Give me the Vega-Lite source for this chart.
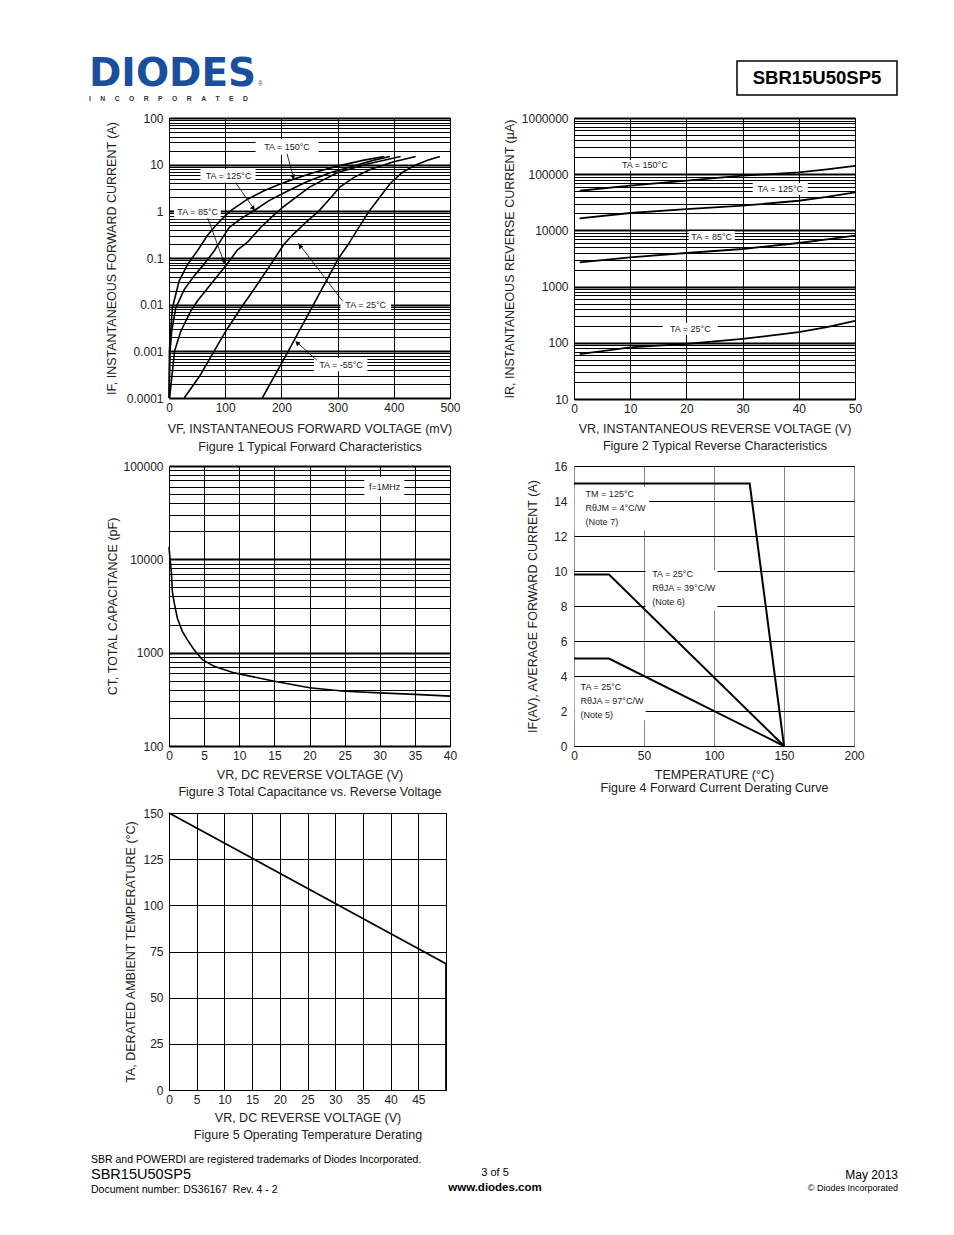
{
  "$schema": "https://vega.github.io/schema/vega-lite/v6.json",
  "background": "white",
  "padding": {"left": 88, "top": 0, "right": 10, "bottom": 10},
  "columns": 2,
  "spacing": {"row": 67, "column": 124},
  "bounds": "flush",
  "align": "each",
  "config": {
    "font": "Liberation Sans",
    "view": {"stroke": "black", "strokeWidth": 1},
    "axis": {"ticks": false, "domain": false, "grid": true, "gridColor": "black", "gridOpacity": 1, "gridWidth": 1, "labelFontSize": 12, "labelColor": "#222", "labelPadding": 4, "labelOverlap": false, "labelBound": false, "labelFlush": false, "titleFontSize": 12.5, "titleFontWeight": "normal", "titleColor": "#222", "titleLineHeight": 17.5, "titlePadding": 5},
    "axisY": {"labelPadding": 6},
    "text": {"color": "#222"}
  },
  "concat": [
    {
      "width": 281, "height": 51, "view": {"stroke": null},
      "encoding": {
        "x": {"field": "x", "type": "quantitative", "scale": {"domain": [0, 281], "nice": false, "zero": false}, "axis": null},
        "y": {"field": "y", "type": "quantitative", "scale": {"domain": [0, 51], "nice": false, "zero": false, "reverse": true}, "axis": null},
        "text": {"field": "t"}
      },
      "layer": [
        {"data": {"values": [{"x": -80, "y": 86, "t": "DIODES"}]}, "mark": {"type": "text", "align": "left", "baseline": "alphabetic", "font": "DejaVu Sans", "fontSize": 39, "fontWeight": "bold", "color": "#1a4f9e"}},
        {"data": {"values": [{"x": -80, "y": 99, "t": "I\u00a0\u00a0\u00a0\u00a0\u00a0N\u00a0\u00a0\u00a0\u00a0\u00a0C\u00a0\u00a0\u00a0\u00a0\u00a0O\u00a0\u00a0\u00a0\u00a0\u00a0R\u00a0\u00a0\u00a0\u00a0\u00a0P\u00a0\u00a0\u00a0\u00a0\u00a0O\u00a0\u00a0\u00a0\u00a0\u00a0R\u00a0\u00a0\u00a0\u00a0\u00a0A\u00a0\u00a0\u00a0\u00a0\u00a0T\u00a0\u00a0\u00a0\u00a0\u00a0E\u00a0\u00a0\u00a0\u00a0\u00a0D"}]}, "mark": {"type": "text", "align": "left", "baseline": "middle", "fontSize": 6.8, "fontWeight": "bold", "color": "#333"}},
        {"data": {"values": [{"x": 89, "y": 84, "t": "®"}]}, "mark": {"type": "text", "align": "left", "baseline": "middle", "fontSize": 6.5, "color": "#1a4f9e"}}
      ]
    },
    {
      "width": 281, "height": 51, "view": {"stroke": null},
      "encoding": {
        "x": {"field": "x", "type": "quantitative", "scale": {"domain": [0, 281], "nice": false, "zero": false}, "axis": null},
        "y": {"field": "y", "type": "quantitative", "scale": {"domain": [0, 51], "nice": false, "zero": false, "reverse": true}, "axis": null}
      },
      "layer": [
        {"data": {"values": [{"x": 163, "x2": 323, "y": 61, "y2": 95}]}, "mark": {"type": "rect", "fill": "transparent", "stroke": "black", "strokeWidth": 1.5}, "encoding": {"x2": {"field": "x2"}, "y2": {"field": "y2"}}},
        {"data": {"values": [{"x": 243, "y": 78, "t": "SBR15U50SP5"}]}, "mark": {"type": "text", "align": "center", "baseline": "middle", "fontSize": 18.5, "fontWeight": "bold", "color": "black"}, "encoding": {"text": {"field": "t"}}}
      ]
    },
    {
      "width": 281, "height": 280,
      "encoding": {
        "x": {"field": "x", "type": "quantitative", "scale": {"domain": [0, 500], "nice": false, "zero": false},
              "axis": {"values": [0, 100, 200, 300, 400, 500], "title": ["VF, INSTANTANEOUS FORWARD VOLTAGE (mV)", "Figure 1 Typical Forward Characteristics"], "titlePadding": 9, "titleLineHeight": 18}},
        "y": {"field": "y", "type": "quantitative", "scale": {"type": "log", "domain": [0.0001, 100], "nice": false},
              "axis": {"values": [0.0001,0.0002,0.0003,0.0004,0.0005,0.0006,0.0007,0.0008,0.0009,0.001,0.002,0.003,0.004,0.005,0.006,0.007,0.008,0.009,0.01,0.02,0.03,0.04,0.05,0.06,0.07,0.08,0.09,0.1,0.2,0.3,0.4,0.5,0.6,0.7,0.8,0.9,1,2,3,4,5,6,7,8,9,10,20,30,40,50,60,70,80,90,100],
                       "format": "~f",
                       "labelExpr": "abs(log(datum.value)/LN10 - round(log(datum.value)/LN10)) < 0.000001 ? datum.label : ''",
                       "gridWidth": {"condition": {"test": "abs(log(datum.value)/LN10 - round(log(datum.value)/LN10)) < 0.000001", "value": 2}, "value": 1},
                       "title": "IF, INSTANTANEOUS FORWARD CURRENT (A)", "titlePadding": 8}}
      },
      "layer": [
        {"data": {"values": [
          {"x": 154, "x2": 266, "y": 16.3, "y2": 36},
          {"x": 56, "x2": 154, "y": 4.14, "y2": 8.03},
          {"x": 9, "x2": 92, "y": 0.678, "y2": 1.31},
          {"x": 305, "x2": 395, "y": 0.0073, "y2": 0.013},
          {"x": 258, "x2": 353, "y": 0.000375, "y2": 0.00072}
        ]}, "mark": {"type": "rect", "fill": "white"}, "encoding": {"x2": {"field": "x2"}, "y2": {"field": "y2"}}},
        {"data": {"values": [
          {"s": "150", "x": 0.1, "y": 0.0001}, {"s": "150", "x": 0.7, "y": 0.001}, {"s": "150", "x": 3, "y": 0.0027}, {"s": "150", "x": 6, "y": 0.0085}, {"s": "150", "x": 18, "y": 0.032}, {"s": "150", "x": 33, "y": 0.073}, {"s": "150", "x": 50, "y": 0.14}, {"s": "150", "x": 68, "y": 0.3}, {"s": "150", "x": 80, "y": 0.45}, {"s": "150", "x": 95, "y": 0.7}, {"s": "150", "x": 108, "y": 1.0}, {"s": "150", "x": 139, "y": 1.8}, {"s": "150", "x": 170, "y": 2.8}, {"s": "150", "x": 199, "y": 3.9}, {"s": "150", "x": 222, "y": 4.9}, {"s": "150", "x": 258, "y": 6.8}, {"s": "150", "x": 300, "y": 9.3}, {"s": "150", "x": 347, "y": 12.5}, {"s": "150", "x": 383, "y": 15},
          {"s": "125", "x": 0.2, "y": 0.0001}, {"s": "125", "x": 1.9, "y": 0.001}, {"s": "125", "x": 4.8, "y": 0.0027}, {"s": "125", "x": 12, "y": 0.0085}, {"s": "125", "x": 27, "y": 0.021}, {"s": "125", "x": 44.5, "y": 0.041}, {"s": "125", "x": 62, "y": 0.073}, {"s": "125", "x": 80, "y": 0.14}, {"s": "125", "x": 95, "y": 0.27}, {"s": "125", "x": 107, "y": 0.45}, {"s": "125", "x": 128, "y": 0.7}, {"s": "125", "x": 153, "y": 1.07}, {"s": "125", "x": 178, "y": 1.7}, {"s": "125", "x": 205, "y": 2.5}, {"s": "125", "x": 245, "y": 4.3}, {"s": "125", "x": 288, "y": 6.8}, {"s": "125", "x": 330, "y": 9.5}, {"s": "125", "x": 365, "y": 12.5}, {"s": "125", "x": 393, "y": 15},
          {"s": "85", "x": 1.1, "y": 0.0001}, {"s": "85", "x": 9.8, "y": 0.001}, {"s": "85", "x": 21, "y": 0.0027}, {"s": "85", "x": 38.6, "y": 0.0073}, {"s": "85", "x": 50.5, "y": 0.012}, {"s": "85", "x": 74, "y": 0.027}, {"s": "85", "x": 101, "y": 0.068}, {"s": "85", "x": 122, "y": 0.15}, {"s": "85", "x": 140, "y": 0.22}, {"s": "85", "x": 163, "y": 0.45}, {"s": "85", "x": 185, "y": 0.8}, {"s": "85", "x": 205, "y": 1.3}, {"s": "85", "x": 250, "y": 3.3}, {"s": "85", "x": 300, "y": 6.8}, {"s": "85", "x": 355, "y": 10.5}, {"s": "85", "x": 412, "y": 15},
          {"s": "25", "x": 27, "y": 0.0001}, {"s": "25", "x": 55, "y": 0.0003}, {"s": "25", "x": 80, "y": 0.001}, {"s": "25", "x": 101, "y": 0.0027}, {"s": "25", "x": 128, "y": 0.0085}, {"s": "25", "x": 157, "y": 0.027}, {"s": "25", "x": 181, "y": 0.073}, {"s": "25", "x": 205, "y": 0.2}, {"s": "25", "x": 222, "y": 0.33}, {"s": "25", "x": 246, "y": 0.62}, {"s": "25", "x": 266, "y": 1.0}, {"s": "25", "x": 285, "y": 1.8}, {"s": "25", "x": 305, "y": 3.4}, {"s": "25", "x": 330, "y": 5.4}, {"s": "25", "x": 359, "y": 8}, {"s": "25", "x": 400, "y": 11.5}, {"s": "25", "x": 439, "y": 15},
          {"s": "-55", "x": 166, "y": 0.0001}, {"s": "-55", "x": 212, "y": 0.001}, {"s": "-55", "x": 257, "y": 0.01}, {"s": "-55", "x": 302, "y": 0.1}, {"s": "-55", "x": 317, "y": 0.18}, {"s": "-55", "x": 335, "y": 0.4}, {"s": "-55", "x": 356, "y": 1.0}, {"s": "-55", "x": 375, "y": 2.0}, {"s": "-55", "x": 394, "y": 4.0}, {"s": "-55", "x": 415, "y": 6.8}, {"s": "-55", "x": 436, "y": 9.5}, {"s": "-55", "x": 460, "y": 12.5}, {"s": "-55", "x": 482, "y": 15}
        ]}, "mark": {"type": "line", "color": "black", "strokeWidth": 1.6}, "encoding": {"detail": {"field": "s"}, "order": {"value": null}}},
        {"data": {"values": [
          {"x": 210, "y": 17.1, "x2": 222.4, "y2": 4.9},
          {"x": 118.7, "y": 4.08, "x2": 152.5, "y2": 1.07},
          {"x": 68.9, "y": 0.72, "x2": 99, "y2": 0.0743},
          {"x": 309, "y": 0.0119, "x2": 230, "y2": 0.21},
          {"x": 263, "y": 0.000646, "x2": 225.4, "y2": 0.00165}
        ]}, "mark": {"type": "rule", "color": "black", "strokeWidth": 0.8}, "encoding": {"x2": {"field": "x2"}, "y2": {"field": "y2"}}},
        {"data": {"values": [{"x": 221, "y": 5.4}]}, "mark": {"type": "point", "shape": "triangle-up", "filled": true, "color": "black", "size": 28, "angle": 166, "opacity": 1}},
        {"data": {"values": [{"x": 150, "y": 1.15}]}, "mark": {"type": "point", "shape": "triangle-up", "filled": true, "color": "black", "size": 28, "angle": 145, "opacity": 1}},
        {"data": {"values": [{"x": 97.5, "y": 0.085}]}, "mark": {"type": "point", "shape": "triangle-up", "filled": true, "color": "black", "size": 28, "angle": 160, "opacity": 1}},
        {"data": {"values": [{"x": 233, "y": 0.18}]}, "mark": {"type": "point", "shape": "triangle-up", "filled": true, "color": "black", "size": 28, "angle": 322, "opacity": 1}},
        {"data": {"values": [{"x": 228, "y": 0.00152}]}, "mark": {"type": "point", "shape": "triangle-up", "filled": true, "color": "black", "size": 28, "angle": 312, "opacity": 1}},
        {"data": {"values": [
          {"x": 210, "y": 24.2, "t": "TA = 150°C"},
          {"x": 106, "y": 5.6, "t": "TA = 125°C"},
          {"x": 51, "y": 0.95, "t": "TA = 85°C"},
          {"x": 350, "y": 0.0098, "t": "TA = 25°C"},
          {"x": 306, "y": 0.00051, "t": "TA = -55°C"}
        ]}, "mark": {"type": "text", "fontSize": 9, "align": "center", "baseline": "middle"}, "encoding": {"text": {"field": "t"}}}
      ]
    },
    {
      "width": 281, "height": 281,
      "encoding": {
        "x": {"field": "x", "type": "quantitative", "scale": {"domain": [0, 50], "nice": false, "zero": false},
              "axis": {"values": [0, 10, 20, 30, 40, 50], "title": ["VR, INSTANTANEOUS REVERSE VOLTAGE (V)", "Figure 2  Typical Reverse Characteristics"], "titlePadding": 8}},
        "y": {"field": "y", "type": "quantitative", "scale": {"type": "log", "domain": [10, 1000000], "nice": false},
              "axis": {"values": [10,20,30,40,50,60,70,80,90,100,200,300,400,500,600,700,800,900,1000,2000,3000,4000,5000,6000,7000,8000,9000,10000,20000,30000,40000,50000,60000,70000,80000,90000,100000,200000,300000,400000,500000,600000,700000,800000,900000,1000000],
                       "format": "~f",
                       "labelExpr": "abs(log(datum.value)/LN10 - round(log(datum.value)/LN10)) < 0.000001 ? datum.label : ''",
                       "gridWidth": {"condition": {"test": "abs(log(datum.value)/LN10 - round(log(datum.value)/LN10)) < 0.000001", "value": 2}, "value": 1},
                       "title": "IR, INSTANTANEOUS REVERSE CURRENT (µA)", "titlePadding": 5}}
      },
      "layer": [
        {"data": {"values": [
          {"x": 8.2, "x2": 17.1, "y": 114000, "y2": 179000},
          {"x": 31.8, "x2": 41.6, "y": 42700, "y2": 69700},
          {"x": 20.4, "x2": 28.6, "y": 5970, "y2": 9750},
          {"x": 15.8, "x2": 25.6, "y": 138, "y2": 225}
        ]}, "mark": {"type": "rect", "fill": "white"}, "encoding": {"x2": {"field": "x2"}, "y2": {"field": "y2"}}},
        {"data": {"values": [
          {"s": "150", "x": 1, "y": 50800}, {"s": "150", "x": 10, "y": 62400}, {"s": "150", "x": 20, "y": 76600}, {"s": "150", "x": 30, "y": 94000}, {"s": "150", "x": 40, "y": 108000}, {"s": "150", "x": 45, "y": 122000}, {"s": "150", "x": 50, "y": 141000},
          {"s": "125", "x": 1, "y": 16400}, {"s": "125", "x": 10, "y": 20400}, {"s": "125", "x": 20, "y": 24000}, {"s": "125", "x": 30, "y": 27500}, {"s": "125", "x": 40, "y": 33700}, {"s": "125", "x": 45, "y": 39500}, {"s": "125", "x": 50, "y": 47600},
          {"s": "85", "x": 1, "y": 2700}, {"s": "85", "x": 10, "y": 3320}, {"s": "85", "x": 20, "y": 3960}, {"s": "85", "x": 30, "y": 4670}, {"s": "85", "x": 40, "y": 5970}, {"s": "85", "x": 45, "y": 6900}, {"s": "85", "x": 50, "y": 8050},
          {"s": "25", "x": 1, "y": 63}, {"s": "25", "x": 10, "y": 83}, {"s": "25", "x": 20, "y": 96}, {"s": "25", "x": 30, "y": 117}, {"s": "25", "x": 40, "y": 155}, {"s": "25", "x": 45, "y": 190}, {"s": "25", "x": 50, "y": 245}
        ]}, "mark": {"type": "line", "color": "black", "strokeWidth": 1.8}, "encoding": {"detail": {"field": "s"}, "order": {"value": null}}},
        {"data": {"values": [
          {"x": 12.6, "y": 146000, "t": "TA = 150°C"},
          {"x": 36.7, "y": 54600, "t": "TA = 125°C"},
          {"x": 24.5, "y": 7640, "t": "TA = 85°C"},
          {"x": 20.7, "y": 176, "t": "TA = 25°C"}
        ]}, "mark": {"type": "text", "fontSize": 9, "align": "center", "baseline": "middle"}, "encoding": {"text": {"field": "t"}}}
      ]
    },
    {
      "width": 281, "height": 280,
      "encoding": {
        "x": {"field": "x", "type": "quantitative", "scale": {"domain": [0, 40], "nice": false, "zero": false},
              "axis": {"values": [0, 5, 10, 15, 20, 25, 30, 35, 40], "title": ["VR, DC REVERSE VOLTAGE (V)", "Figure 3  Total Capacitance vs. Reverse Voltage"], "titlePadding": 7}},
        "y": {"field": "y", "type": "quantitative", "scale": {"type": "log", "domain": [100, 100000], "nice": false},
              "axis": {"values": [100,200,300,400,500,600,700,800,900,1000,2000,3000,4000,5000,6000,7000,8000,9000,10000,20000,30000,40000,50000,60000,70000,80000,90000,100000],
                       "format": "~f",
                       "labelExpr": "abs(log(datum.value)/LN10 - round(log(datum.value)/LN10)) < 0.000001 ? datum.label : ''",
                       "gridWidth": {"condition": {"test": "abs(log(datum.value)/LN10 - round(log(datum.value)/LN10)) < 0.000001", "value": 2}, "value": 1},
                       "title": "CT, TOTAL CAPACITANCE (pF)", "titlePadding": 3}}
      },
      "layer": [
        {"data": {"values": [{"x": 27.8, "x2": 33.5, "y": 47000, "y2": 76900}]}, "mark": {"type": "rect", "fill": "white"}, "encoding": {"x2": {"field": "x2"}, "y2": {"field": "y2"}}},
        {"data": {"values": [
          {"x": 0, "y": 13650}, {"x": 0.14, "y": 10200}, {"x": 0.33, "y": 7380}, {"x": 0.48, "y": 4520}, {"x": 0.71, "y": 3530}, {"x": 1.19, "y": 2340}, {"x": 1.9, "y": 1690}, {"x": 2.6, "y": 1380}, {"x": 3.57, "y": 1077}, {"x": 4.76, "y": 841}, {"x": 6.43, "y": 714}, {"x": 9.3, "y": 607}, {"x": 15, "y": 494}, {"x": 20, "y": 420}, {"x": 25, "y": 386}, {"x": 30, "y": 371}, {"x": 35, "y": 357}, {"x": 40, "y": 342}
        ]}, "mark": {"type": "line", "color": "black", "strokeWidth": 1.6}, "encoding": {"order": {"value": null}}},
        {"data": {"values": [{"x": 30.7, "y": 60100, "t": "f=1MHz"}]}, "mark": {"type": "text", "fontSize": 9, "align": "center", "baseline": "middle"}, "encoding": {"text": {"field": "t"}}}
      ]
    },
    {
      "width": 280, "height": 280,
      "encoding": {
        "x": {"field": "x", "type": "quantitative", "scale": {"domain": [0, 200], "nice": false, "zero": false},
              "axis": {"values": [0, 50, 100, 150, 200], "gridColor": "#888", "title": ["TEMPERATURE (°C)", "Figure 4  Forward Current Derating Curve"], "titleLineHeight": 13.5, "titlePadding": 7}},
        "y": {"field": "y", "type": "quantitative", "scale": {"domain": [0, 16], "nice": false, "zero": false},
              "axis": {"values": [0, 2, 4, 6, 8, 10, 12, 14, 16], "title": "IF(AV), AVERAGE FORWARD CURRENT (A)", "titlePadding": 14, "labelPadding": 7}}
      },
      "layer": [
        {"data": {"values": [
          {"x": 0.5, "x2": 53.6, "y": 12.3, "y2": 14.8},
          {"x": 51.1, "x2": 102.4, "y": 7.75, "y2": 10.04},
          {"x": 0.5, "x2": 51.2, "y": 1.47, "y2": 3.94}
        ]}, "mark": {"type": "rect", "fill": "white"}, "encoding": {"x2": {"field": "x2"}, "y2": {"field": "y2"}}},
        {"data": {"values": [
          {"s": "TM125", "x": 0, "y": 15}, {"s": "TM125", "x": 125.5, "y": 15}, {"s": "TM125", "x": 150, "y": 0},
          {"s": "RJA39", "x": 0, "y": 9.8}, {"s": "RJA39", "x": 25, "y": 9.8}, {"s": "RJA39", "x": 150, "y": 0},
          {"s": "RJA97", "x": 0, "y": 5}, {"s": "RJA97", "x": 25, "y": 5}, {"s": "RJA97", "x": 150, "y": 0}
        ]}, "mark": {"type": "line", "color": "black", "strokeWidth": 2}, "encoding": {"detail": {"field": "s"}, "order": {"value": null}}},
        {"data": {"values": [
          {"x": 8.3, "y": 14.38, "t": "TM = 125°C"}, {"x": 8.3, "y": 13.6, "t": "RθJM = 4°C/W"}, {"x": 8.3, "y": 12.78, "t": "(Note 7)"},
          {"x": 55.9, "y": 9.85, "t": "TA = 25°C"}, {"x": 55.9, "y": 9.03, "t": "RθJA = 39°C/W"}, {"x": 55.9, "y": 8.23, "t": "(Note 6)"},
          {"x": 4.7, "y": 3.37, "t": "TA = 25°C"}, {"x": 4.7, "y": 2.55, "t": "RθJA = 97°C/W"}, {"x": 4.7, "y": 1.79, "t": "(Note 5)"}
        ]}, "mark": {"type": "text", "fontSize": 9, "align": "left", "baseline": "middle"}, "encoding": {"text": {"field": "t"}}}
      ]
    },
    {
      "width": 277, "height": 277,
      "encoding": {
        "x": {"field": "x", "type": "quantitative", "scale": {"domain": [0, 50], "nice": false, "zero": false},
              "axis": {"values": [0, 5, 10, 15, 20, 25, 30, 35, 40, 45, 50], "labelExpr": "datum.value == 50 ? '' : datum.label", "title": ["VR, DC REVERSE VOLTAGE (V)", "Figure 5  Operating Temperature Derating"], "titlePadding": 6}},
        "y": {"field": "y", "type": "quantitative", "scale": {"domain": [0, 150], "nice": false, "zero": false},
              "axis": {"values": [0, 25, 50, 75, 100, 125, 150], "title": "TA, DERATED AMBIENT TEMPERATURE (°C)", "titlePadding": 5}}
      },
      "layer": [
        {"data": {"values": [{"x": 0, "y": 150}, {"x": 50, "y": 68.4}, {"x": 50, "y": 0}]}, "mark": {"type": "line", "color": "black", "strokeWidth": 1.8}, "encoding": {"order": {"value": null}}}
      ]
    },
    {
      "width": 1, "height": 1, "view": {"stroke": null},
      "data": {"values": [{"t": ""}]},
      "mark": {"type": "text"},
      "encoding": {"text": {"field": "t"}}
    },
    {
      "width": 281, "height": 40, "view": {"stroke": null},
      "encoding": {
        "x": {"field": "x", "type": "quantitative", "scale": {"domain": [0, 281], "nice": false, "zero": false}, "axis": null},
        "y": {"field": "y", "type": "quantitative", "scale": {"domain": [0, 40], "nice": false, "zero": false, "reverse": true}, "axis": null},
        "text": {"field": "t"}
      },
      "layer": [
        {"data": {"values": [{"x": -78, "y": 3, "t": "SBR and POWERDI are registered trademarks of Diodes Incorporated."}, {"x": -78, "y": 33, "t": "Document number: DS36167\u00a0 Rev. 4 - 2"}]}, "mark": {"type": "text", "align": "left", "baseline": "middle", "fontSize": 10.5, "color": "black"}},
        {"data": {"values": [{"x": -78, "y": 18, "t": "SBR15U50SP5"}]}, "mark": {"type": "text", "align": "left", "baseline": "middle", "fontSize": 14.5, "color": "black"}},
        {"data": {"values": [{"x": 326, "y": 16, "t": "3 of 5"}]}, "mark": {"type": "text", "align": "center", "baseline": "middle", "fontSize": 11, "color": "black"}},
        {"data": {"values": [{"x": 326, "y": 31, "t": "www.diodes.com"}]}, "mark": {"type": "text", "align": "center", "baseline": "middle", "fontSize": 11.5, "fontWeight": "bold", "color": "black"}},
        {"data": {"values": [{"x": 729, "y": 18, "t": "May 2013"}]}, "mark": {"type": "text", "align": "right", "baseline": "middle", "fontSize": 12, "color": "black"}},
        {"data": {"values": [{"x": 729, "y": 31, "t": "© Diodes Incorporated"}]}, "mark": {"type": "text", "align": "right", "baseline": "middle", "fontSize": 9, "color": "black"}}
      ]
    }
  ]
}
